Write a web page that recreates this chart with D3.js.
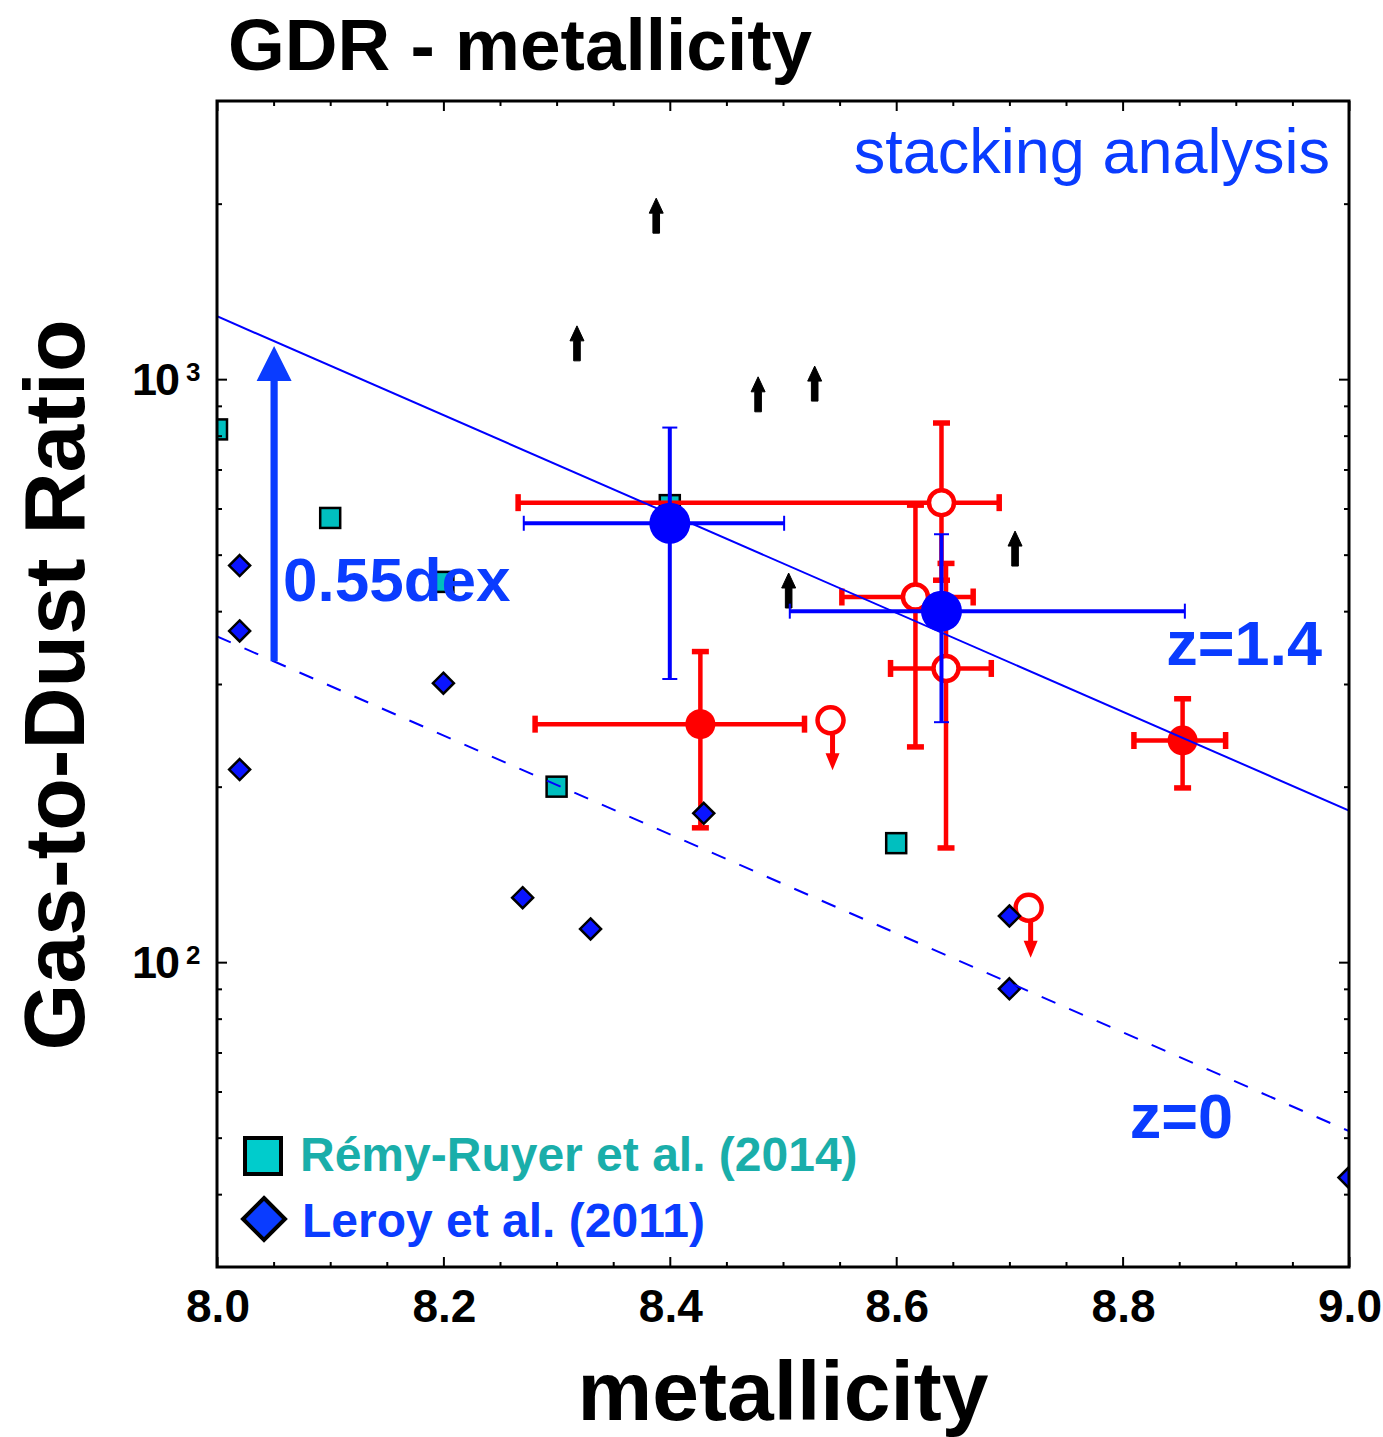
<!DOCTYPE html>
<html>
<head>
<meta charset="utf-8">
<script src="https://cdn.jsdelivr.net/npm/d3@7"></script>
<style>
  html, body { margin: 0; padding: 0; background: #fff; }
  svg { display: block; font-family: "Liberation Sans", Arial, Helvetica, sans-serif; }
</style>
</head>
<body>
<svg id="chart" width="1383" height="1437"></svg>
<script>
// ---- Local galaxies: Rémy-Ruyer et al. (2014) ----
const remyZ   = [8.00, 8.10, 8.20, 8.30, 8.40, 8.60];
const remyGDR = [820, 578, 449, 200, 608, 160];

// ---- Local galaxies: Leroy et al. (2011) ----
const leroyZ   = [8.02, 8.02, 8.02, 8.20, 8.27, 8.33, 8.43, 8.70, 8.70, 9.00];
const leroyGDR = [479, 370, 214, 301, 129, 114, 180, 120, 90, 42.7];

// ---- Individual detections (filled red) ----
const detZ     = [8.427, 8.853];
const detGDR   = [256, 240];
const detZlo   = [8.281, 8.810];
const detZhi   = [8.519, 8.891];
const detGlo   = [170, 199];
const detGhi   = [341, 283];

// ---- Individual detections (open red) ----
const openZ    = [8.640, 8.617, 8.644];
const openGDR  = [614, 423, 319];
const openZlo  = [8.266, 8.552, 8.595];
const openZhi  = [8.691, 8.668, 8.684];
const openGlo  = [452, 234, 157];
const openGhi  = [841, 608, 483];

// ---- Upper limits (open red with downward arrow) ----
const upperZ   = [8.542, 8.717];
const upperGDR = [260, 124];

// ---- Lower limits (black upward arrows) ----
const lowerZ   = [8.318, 8.388, 8.478, 8.528, 8.505, 8.705];
const lowerGDR = [1075, 1780, 879, 917, 405, 478];

// ---- Stacking analysis (blue) ----
const stackZ   = [8.400, 8.640];
const stackGDR = [566, 400];
const stackZlo = [8.271, 8.506];
const stackZhi = [8.501, 8.855];
const stackGlo = [306, 258];
const stackGhi = [826, 542];

// ---- GDR-metallicity relations ----
const fitZ     = [8.0, 9.0];
const fitZ14   = [1282, 182];    // z = 1.4
const fitZ0    = [362, 51.3];    // z = 0
const offsetZ  = 8.05;           // where the 0.55 dex offset is marked

// ---- Axis ticks ----
const xTickValues = [8.0, 8.2, 8.4, 8.6, 8.8, 9.0];
const xTickLabels = ["8.0", "8.2", "8.4", "8.6", "8.8", "9.0"];
const yMajorValues = [100, 1000];
const yMajorBase = ["10", "10"];
const yMajorExp  = ["2", "3"];

// ---- Layout ----
const L = 217, R = 1349, T = 101, B = 1267;
const BLUE = "#0000ff", TXTBLUE = "#0a3cff", RED = "#ff0000", TEAL = "#1aaeaa";

const svg = d3.select("#chart");
const x = d3.scaleLinear().domain([8, 9]).range([L, R]);
const y = d3.scaleLog().domain([30, 3000]).range([B, T]);

svg.append("defs").append("clipPath").attr("id", "plotclip")
  .append("rect").attr("x", L).attr("y", T).attr("width", R - L).attr("height", B - T);

const plot = svg.append("g").attr("clip-path", "url(#plotclip)");

// Rémy-Ruyer squares
const sq = 20;
plot.append("g").selectAll("rect").data(remyZ.map((z, i) => [z, remyGDR[i]])).join("rect")
  .attr("x", d => x(d[0]) - sq / 2).attr("y", d => y(d[1]) - sq / 2)
  .attr("width", sq).attr("height", sq)
  .attr("fill", "#00bfbf").attr("stroke", "#000").attr("stroke-width", 2.5);

// Error bar helper
function errorBars(g, xs, ys, xlo, xhi, ylo, yhi, color, lw, capLen, capW) {
  const data = xs.map((z, i) => ({ z, v: ys[i], zl: xlo[i], zh: xhi[i], vl: ylo[i], vh: yhi[i] }));
  const e = g.append("g").attr("stroke", color).attr("fill", "none");
  data.forEach(d => {
    e.append("line").attr("x1", x(d.zl)).attr("x2", x(d.zh)).attr("y1", y(d.v)).attr("y2", y(d.v)).attr("stroke-width", lw);
    e.append("line").attr("x1", x(d.z)).attr("x2", x(d.z)).attr("y1", y(d.vl)).attr("y2", y(d.vh)).attr("stroke-width", lw);
    [d.zl, d.zh].forEach(zz => e.append("line").attr("x1", x(zz)).attr("x2", x(zz))
      .attr("y1", y(d.v) - capLen / 2).attr("y2", y(d.v) + capLen / 2).attr("stroke-width", capW));
    [d.vl, d.vh].forEach(vv => e.append("line").attr("y1", y(vv)).attr("y2", y(vv))
      .attr("x1", x(d.z) - capLen / 2).attr("x2", x(d.z) + capLen / 2).attr("stroke-width", capW));
  });
}

// Red individual galaxies
const redG = plot.append("g");
errorBars(redG, openZ, openGDR, openZlo, openZhi, openGlo, openGhi, RED, 4.5, 17, 5.5);
errorBars(redG, detZ, detGDR, detZlo, detZhi, detGlo, detGhi, RED, 4.5, 17, 5.5);
redG.append("g").selectAll("circle").data(detZ.map((z, i) => [z, detGDR[i]])).join("circle")
  .attr("cx", d => x(d[0])).attr("cy", d => y(d[1])).attr("r", 15).attr("fill", RED);
redG.append("g").selectAll("circle").data(openZ.map((z, i) => [z, openGDR[i]])).join("circle")
  .attr("cx", d => x(d[0])).attr("cy", d => y(d[1])).attr("r", 12.5)
  .attr("fill", "#fff").attr("stroke", RED).attr("stroke-width", 4.5);

// Upper limits: open circle + downward arrow
const ul = redG.append("g");
upperZ.forEach((z, i) => {
  const cx = x(z), cy = y(upperGDR[i]);
  const top = cy + 14, tip = cy + 50, headL = 17, hw = 7, sw = 2.5, ax = cx + 2;
  ul.append("path")
    .attr("d", `M${ax - sw},${top} L${ax - sw},${tip - headL} L${ax - hw},${tip - headL} L${ax},${tip} L${ax + hw},${tip - headL} L${ax + sw},${tip - headL} L${ax + sw},${top} Z`)
    .attr("fill", RED);
  ul.append("circle").attr("cx", cx).attr("cy", cy).attr("r", 13)
    .attr("fill", "#fff").attr("stroke", RED).attr("stroke-width", 4.5);
});

// Leroy diamonds
const dh = 10.5;
plot.append("g").selectAll("path").data(leroyZ.map((z, i) => [z, leroyGDR[i]])).join("path")
  .attr("d", d => {
    const cx = x(d[0]), cy = y(d[1]);
    return `M${cx},${cy - dh} L${cx + dh},${cy} L${cx},${cy + dh} L${cx - dh},${cy} Z`;
  })
  .attr("fill", "#0a14ff").attr("stroke", "#000").attr("stroke-width", 2.5).attr("stroke-linejoin", "miter");

// Relations
const fitLine = d3.line().x(d => x(d[0])).y(d => y(d[1]));
plot.append("path").datum(fitZ.map((z, i) => [z, fitZ14[i]])).attr("d", fitLine)
  .attr("fill", "none").attr("stroke", BLUE).attr("stroke-width", 2);
plot.append("path").datum(fitZ.map((z, i) => [z, fitZ0[i]])).attr("d", fitLine)
  .attr("fill", "none").attr("stroke", BLUE).attr("stroke-width", 2).attr("stroke-dasharray", "15,15");

// Lower limits (black arrows)
const ll = plot.append("g").attr("fill", "#000");
lowerZ.forEach((z, i) => {
  const ax = x(z), base = y(lowerGDR[i]), tip = base - 35, headL = 15, hw = 7, sw = 3.3;
  ll.append("path")
    .attr("d", `M${ax - sw},${base} L${ax - sw},${tip + headL} L${ax - hw},${tip + headL} L${ax},${tip} L${ax + hw},${tip + headL} L${ax + sw},${tip + headL} L${ax + sw},${base} Z`)
    .attr("stroke", "#000").attr("stroke-width", 1).attr("stroke-linejoin", "round");
});

// Stacking results (blue)
const blueG = plot.append("g");
errorBars(blueG, stackZ, stackGDR, stackZlo, stackZhi, stackGlo, stackGhi, BLUE, 4, 15, 2);
blueG.append("g").selectAll("circle").data(stackZ.map((z, i) => [z, stackGDR[i]])).join("circle")
  .attr("cx", d => x(d[0])).attr("cy", d => y(d[1])).attr("r", 20.5).attr("fill", BLUE);

// 0.55 dex offset arrow between the two relations
const logInterp = (arr, z) => Math.pow(10, Math.log10(arr[0]) + (Math.log10(arr[1]) - Math.log10(arr[0])) * (z - fitZ[0]) / (fitZ[1] - fitZ[0]));
{
  const ax = x(offsetZ) + 0.5, yb = y(logInterp(fitZ0, offsetZ)), yt = y(logInterp(fitZ14, offsetZ)) + 5;
  const headL = 35, hw = 17.5, sw = 3.6;
  svg.append("path")
    .attr("d", `M${ax - sw},${yb} L${ax - sw},${yt + headL} L${ax - hw},${yt + headL} L${ax},${yt} L${ax + hw},${yt + headL} L${ax + sw},${yt + headL} L${ax + sw},${yb} Z`)
    .attr("fill", "#0a3cff");
}

// Axes: ticks on all four sides, pointing inward
const xMinor = d3.range(8.05, 9.0, 0.05).map(v => +v.toFixed(2)).filter(v => !xTickValues.includes(v));
const yMinor = [40, 50, 60, 70, 80, 90, 200, 300, 400, 500, 600, 700, 800, 900, 2000];
function styleAxis(g) {
  g.select(".domain").remove();
  g.selectAll(".tick line").attr("stroke", "#000").attr("stroke-width", 2);
  g.selectAll(".tick text").remove();
}
const axes = svg.append("g");
[[d3.axisBottom, B], [d3.axisTop, T]].forEach(([fn, pos]) => {
  axes.append("g").attr("transform", `translate(0,${pos})`)
    .call(fn(x).tickValues(xMinor).tickSize(-5)).call(styleAxis);
  axes.append("g").attr("transform", `translate(0,${pos})`)
    .call(fn(x).tickValues(xTickValues).tickSize(-10)).call(styleAxis);
});
[[d3.axisLeft, L], [d3.axisRight, R]].forEach(([fn, pos]) => {
  axes.append("g").attr("transform", `translate(${pos},0)`)
    .call(fn(y).tickValues(yMinor).tickSize(-5)).call(styleAxis);
  axes.append("g").attr("transform", `translate(${pos},0)`)
    .call(fn(y).tickValues(yMajorValues).tickSize(-10)).call(styleAxis);
});
svg.append("rect").attr("x", L).attr("y", T).attr("width", R - L).attr("height", B - T)
  .attr("fill", "none").attr("stroke", "#000").attr("stroke-width", 3);

// Tick labels
svg.append("g").selectAll("text").data(xTickValues).join("text")
  .attr("x", d => x(d) + 1).attr("y", B + 55)
  .attr("text-anchor", "middle").attr("font-size", 46).attr("font-weight", "bold")
  .text((d, i) => xTickLabels[i]);
yMajorValues.forEach((v, i) => {
  svg.append("text").attr("x", 178).attr("y", y(v) + 15.5)
    .attr("text-anchor", "end").attr("font-size", 45).attr("font-weight", "bold")
    .attr("letter-spacing", -2).text(yMajorBase[i]);
  svg.append("text").attr("x", 186).attr("y", y(v) + 1.5)
    .attr("font-size", 26).attr("font-weight", "bold").text(yMajorExp[i]);
});

// Titles
svg.append("text").attr("x", 228).attr("y", 70).attr("font-size", 73).attr("font-weight", "bold")
  .text("GDR - metallicity");
svg.append("text").attr("x", 783).attr("y", 1420).attr("text-anchor", "middle")
  .attr("font-size", 84).attr("font-weight", "bold").text("metallicity");
svg.append("text").attr("transform", "translate(84,685) rotate(-90)").attr("text-anchor", "middle")
  .attr("font-size", 86).attr("font-weight", "bold").text("Gas-to-Dust Ratio");

// Annotations
svg.append("text").attr("x", 1330).attr("y", 173).attr("text-anchor", "end")
  .attr("font-size", 63).attr("fill", TXTBLUE).text("stacking analysis");
svg.append("text").attr("x", 283).attr("y", 601).attr("font-size", 62).attr("font-weight", "bold")
  .attr("fill", TXTBLUE).text("0.55dex");
svg.append("text").attr("x", 1322).attr("y", 665).attr("text-anchor", "end").attr("font-size", 63)
  .attr("font-weight", "bold").attr("fill", TXTBLUE).text("z=1.4");
svg.append("text").attr("x", 1233).attr("y", 1138).attr("text-anchor", "end").attr("font-size", 63)
  .attr("font-weight", "bold").attr("fill", TXTBLUE).text("z=0");

// Legend
const leg = svg.append("g");
leg.append("rect").attr("x", 245).attr("y", 1138).attr("width", 36).attr("height", 36)
  .attr("fill", "#00cccc").attr("stroke", "#000").attr("stroke-width", 4);
leg.append("text").attr("x", 300).attr("y", 1171).attr("font-size", 48).attr("font-weight", "bold")
  .attr("fill", TEAL).text("Rémy-Ruyer et al. (2014)");
leg.append("path").attr("d", "M264,1198 L285,1219 L264,1240 L243,1219 Z")
  .attr("fill", "#0a3cff").attr("stroke", "#000").attr("stroke-width", 4);
leg.append("text").attr("x", 302).attr("y", 1237).attr("font-size", 48).attr("font-weight", "bold")
  .attr("fill", TXTBLUE).text("Leroy et al. (2011)");
</script>
</body>
</html>
